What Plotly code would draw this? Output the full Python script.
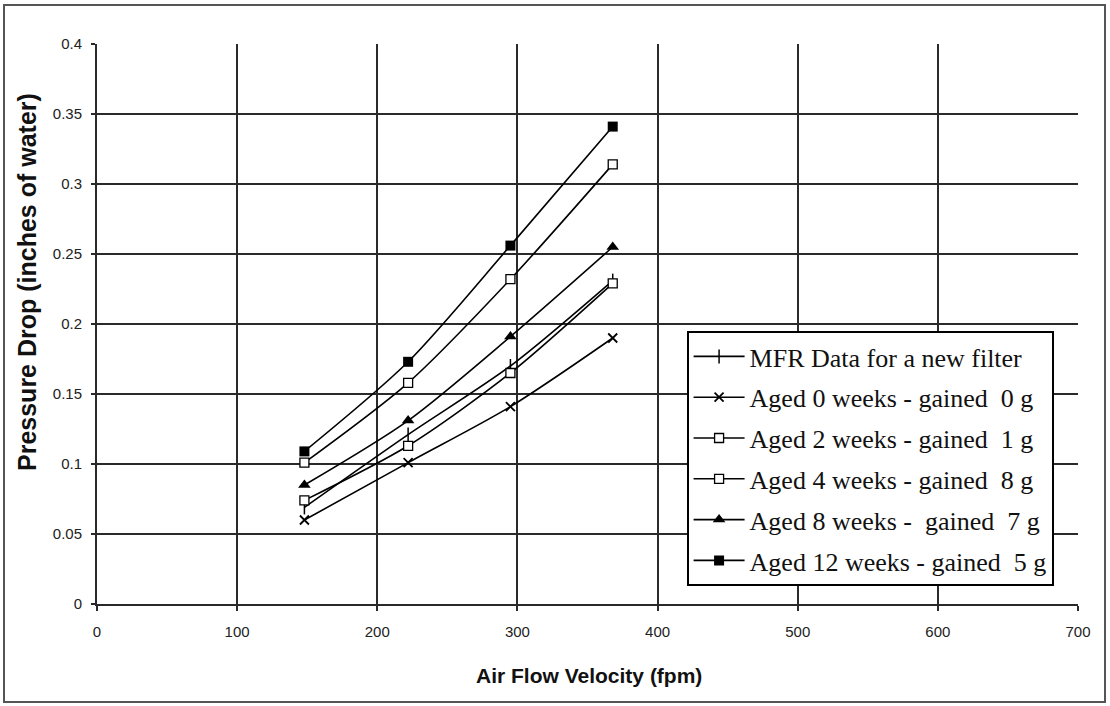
import plotly.graph_objects as go

velocity = [148, 222, 295, 368]

series_names = [
    "MFR Data for a new filter",
    "Aged 0 weeks - gained  0 g",
    "Aged 2 weeks - gained  1 g",
    "Aged 4 weeks - gained  8 g",
    "Aged 8 weeks -  gained  7 g",
    "Aged 12 weeks - gained  5 g",
]
mfr_new = [0.069, 0.121, 0.170, 0.231]
aged_0w = [0.060, 0.101, 0.141, 0.190]
aged_2w = [0.074, 0.113, 0.165, 0.229]
aged_4w = [0.101, 0.158, 0.232, 0.314]
aged_8w = [0.085, 0.131, 0.191, 0.255]
aged_12w = [0.109, 0.173, 0.256, 0.341]

x_ticks = [0, 100, 200, 300, 400, 500, 600, 700]
y_ticks = [0, 0.05, 0.1, 0.15, 0.2, 0.25, 0.3, 0.35, 0.4]
y_tick_labels = ["0", "0.05", "0.1", "0.15", "0.2", "0.25", "0.3", "0.35", "0.4"]

x_title = "Air Flow Velocity (fpm)"
y_title = "Pressure Drop (inches of water)"

styles = [
    dict(symbol="line-ns", size=10, color="black", line=dict(color="black", width=1.5)),
    dict(symbol="x-thin", size=9, color="black", line=dict(color="black", width=1.8)),
    dict(symbol="square", size=9, color="white", line=dict(color="black", width=1.3)),
    dict(symbol="square", size=9, color="white", line=dict(color="black", width=1.3)),
    dict(symbol="triangle-up", size=11, color="black", line=dict(color="black", width=0)),
    dict(symbol="square", size=10, color="black", line=dict(color="black", width=0)),
]
values = [mfr_new, aged_0w, aged_2w, aged_4w, aged_8w, aged_12w]

fig = go.Figure()
for i, (name, ys, mk) in enumerate(zip(series_names, values, styles)):
    fig.add_trace(go.Scatter(
        x=velocity, y=ys, name=name, mode="lines+markers",
        line=dict(color="black", width=1.6, shape="spline", smoothing=0.8),
        marker=mk, legendgroup=f"g{i}",
    ))

grid_color = "#2a2a2a"
fig.update_layout(
    width=1110, height=706,
    margin=dict(l=97, r=32, t=44, b=102),
    paper_bgcolor="white", plot_bgcolor="white",
    font=dict(family="Liberation Sans, Arial", color="#222"),
    showlegend=True,
    legend=dict(
        x=0.601, y=0.4875, xanchor="left", yanchor="top",
        bgcolor="white", bordercolor="black", borderwidth=2,
        font=dict(family="Liberation Serif, Times New Roman", size=26, color="#111"),
        itemwidth=51, tracegroupgap=4,
    ),
    xaxis=dict(
        range=[0, 700], tickvals=x_ticks, showgrid=True, gridcolor=grid_color, gridwidth=2,
        showline=True, linecolor=grid_color, linewidth=2, zeroline=False,
        ticks="outside", ticklen=5, tickcolor=grid_color, tickwidth=2,
        tickfont=dict(size=15, color="#222"), ticklabelstandoff=8,
    ),
    yaxis=dict(
        range=[0, 0.4], tickvals=y_ticks, ticktext=y_tick_labels, showgrid=True,
        gridcolor=grid_color, gridwidth=2,
        showline=True, linecolor=grid_color, linewidth=2, zeroline=False,
        ticks="outside", ticklen=4, tickcolor=grid_color, tickwidth=2,
        tickfont=dict(size=15, color="#222"), ticklabelstandoff=6,
    ),
    annotations=[
        dict(text=f"<b>{x_title}</b>", xref="paper", yref="paper",
             x=(589 - 97) / 981, y=(604 - 675) / 560, xanchor="center", yanchor="middle",
             showarrow=False, font=dict(size=21, color="#111")),
        dict(text=f"<b>{y_title}</b>", xref="paper", yref="paper",
             x=(27 - 97) / 981, y=(604 - 282) / 560, xanchor="center", yanchor="middle",
             textangle=-90, showarrow=False, font=dict(size=25, color="#111")),
    ],
    shapes=[dict(
        type="rect", xref="paper", yref="paper",
        x0=(4 - 97) / 981, x1=(1105 - 97) / 981, y0=(604 - 702) / 560, y1=(604 - 5) / 560,
        line=dict(color="#555", width=2), fillcolor="rgba(0,0,0,0)", layer="below",
    )],
)

fig.write_html(
    "out.html",
    config={"displayModeBar": False},
    post_script="document.body.style.margin='0px';document.body.style.overflow='hidden';",
)
